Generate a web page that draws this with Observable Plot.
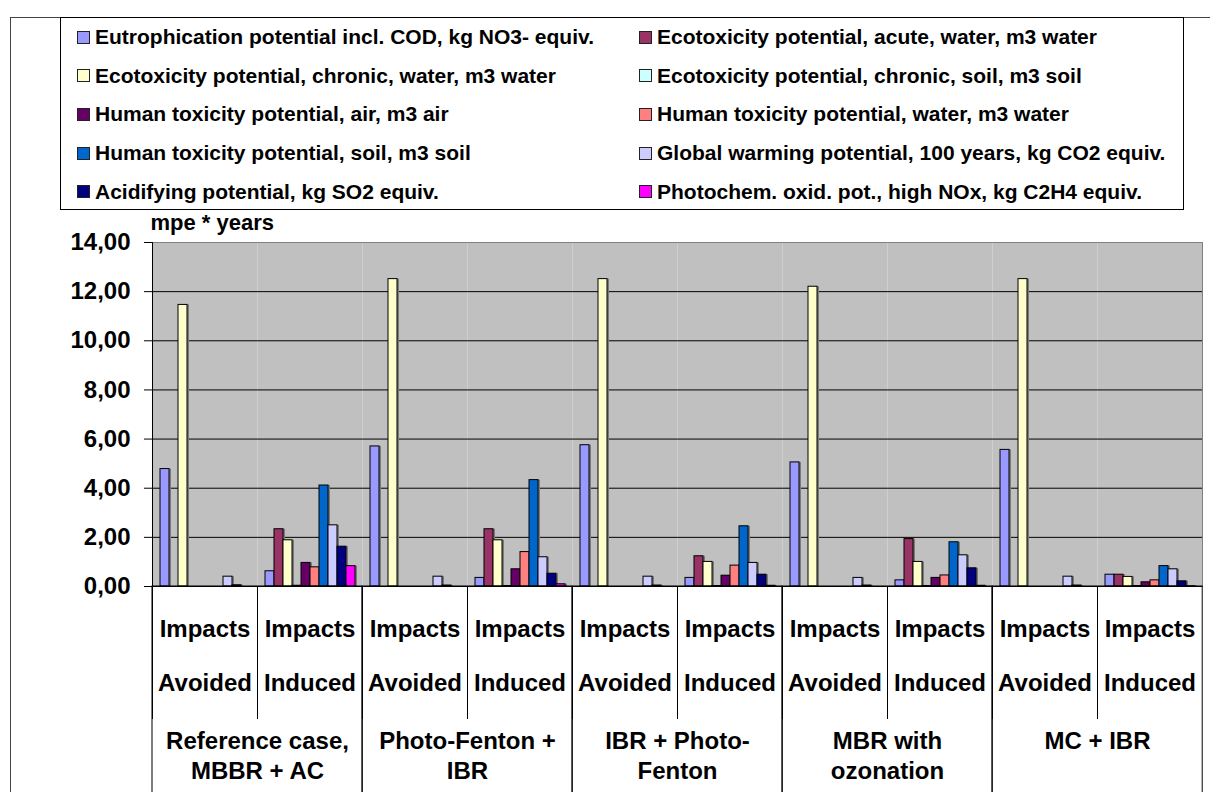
<!DOCTYPE html>
<html>
<head>
<meta charset="utf-8">
<script src="https://cdn.jsdelivr.net/npm/d3@7"></script>
<script src="https://cdn.jsdelivr.net/npm/@observablehq/plot@0.6"></script>
<style>
  body { margin: 0; background: #fff; font-family: "Liberation Sans", Arial, sans-serif; }
  #frame { position: absolute; left: 10px; top: 17px; width: 1210px; height: 790px;
           border-left: 1px solid #444; border-top: 1px solid #444; }
  #legend { position: absolute; left: 60px; top: 17px; width: 1124px; height: 193px;
            border: 1px solid #000; box-sizing: border-box; background: #fff; overflow: hidden; }
  #chart { position: absolute; left: 11px; top: 211px; }
  #legend .lg-swatches-wrap {
    display: grid !important; grid-template-columns: 562px 562px; grid-auto-rows: 38.6px;
    padding-left: 17px; margin: 0 !important; min-height: 0 !important;
    font: bold 21px "Liberation Sans", Arial, sans-serif !important; color: #000;
  }
  #legend .lg-swatch { margin: 0 !important; display: flex !important; align-items: center; white-space: nowrap; }
  #legend .lg-swatch svg { margin-right: 6px !important; outline: 1px solid #222; }
</style>
</head>
<body>
<div id="frame"></div>
<div id="legend"></div>
<div id="chart"></div>
<script>
// Impact categories (series) and their fill colours
const series = [
  "Eutrophication potential incl. COD, kg NO3- equiv.",
  "Ecotoxicity potential, acute, water, m3 water",
  "Ecotoxicity potential, chronic, water, m3 water",
  "Ecotoxicity potential, chronic, soil, m3 soil",
  "Human toxicity potential, air, m3 air",
  "Human toxicity potential, water, m3 water",
  "Human toxicity potential, soil, m3 soil",
  "Global warming potential, 100 years, kg CO2 equiv.",
  "Acidifying potential, kg SO2 equiv.",
  "Photochem. oxid. pot., high NOx, kg C2H4 equiv."
];
const colors = ["#9999FF", "#993366", "#FFFFCC", "#CCFFFF", "#660066",
                "#FF8080", "#0066CC", "#CCCCFF", "#000080", "#FF00FF"];

// Treatment scenarios and the two impact kinds shown for each
const scenarios = ["Reference case,\nMBBR + AC", "Photo-Fenton +\nIBR", "IBR + Photo-\nFenton",
                   "MBR with\nozonation", "MC + IBR"];
const impacts = ["Avoided", "Induced"];

// Normalised impacts, mpe * years (one value per series)
const referenceAvoided   = [4.78, 0, 11.46, 0, 0, 0, 0, 0.40, 0.05, 0];
const referenceInduced   = [0.62, 2.33, 1.88, 0.03, 0.96, 0.78, 4.11, 2.49, 1.62, 0.83];
const photoFentonAvoided = [5.70, 0, 12.51, 0, 0, 0, 0, 0.40, 0.04, 0];
const photoFentonInduced = [0.35, 2.33, 1.88, 0.02, 0.70, 1.40, 4.33, 1.19, 0.52, 0.09];
const ibrAvoided         = [5.75, 0, 12.51, 0, 0, 0, 0, 0.40, 0.04, 0];
const ibrInduced         = [0.35, 1.23, 1.00, 0.02, 0.44, 0.85, 2.45, 0.96, 0.48, 0.03];
const mbrAvoided         = [5.05, 0, 12.20, 0, 0, 0, 0, 0.35, 0.04, 0];
const mbrInduced         = [0.25, 1.93, 1.00, 0.02, 0.35, 0.45, 1.80, 1.27, 0.74, 0.03];
const mcAvoided          = [5.56, 0, 12.51, 0, 0, 0, 0, 0.40, 0.04, 0];
const mcInduced          = [0.48, 0.48, 0.39, 0.02, 0.17, 0.25, 0.83, 0.70, 0.21, 0.01];

const yTicks = [0, 2, 4, 6, 8, 10, 12, 14];

const valuesByScenario = [
  [referenceAvoided, referenceInduced],
  [photoFentonAvoided, photoFentonInduced],
  [ibrAvoided, ibrInduced],
  [mbrAvoided, mbrInduced],
  [mcAvoided, mcInduced]
];

// One facet per scenario × impact kind
const subKey = (s, k) => `${scenarios[s].replace("\n", " ")} | ${impacts[k]}`;
const subRows = [];
const groupRows = [];
const rows = [];
scenarios.forEach((label, s) => {
  groupRows.push({key: subKey(s, 0), label});
  impacts.forEach((impact, k) => {
    const key = subKey(s, k);
    subRows.push({key, impact});
    valuesByScenario[s][k].forEach((value, j) => rows.push({sub: key, series: series[j], value}));
  });
});
const subKeys = subRows.map(d => d.key);

// Layout
const W = 1199, H = 581, ML = 140, MR = 7, MT = 31, MB = 206;
const FACET_W = (W - ML - MR) / subKeys.length;
const PLOT_H = H - MT - MB;
const font = '"Liberation Sans", Arial, sans-serif';
const fmt = d => d3.format(".2f")(d).replace(".", ",");

const chart = Plot.plot({
  width: W, height: H,
  marginLeft: ML, marginRight: MR, marginTop: MT, marginBottom: MB,
  style: {fontFamily: font, fontWeight: "bold", color: "#000", background: "transparent"},
  fx: {domain: subKeys, padding: 0, axis: null},
  x: {domain: series, paddingInner: 0, paddingOuter: 0.65, axis: null},
  y: {domain: [0, 14], axis: null},
  color: {domain: series, range: colors},
  marks: [
    // grey plot area
    Plot.frame({fill: "#c0c0c0", stroke: "none"}),
    Plot.ruleY(yTicks.filter(t => t > 0 && t < 14), {stroke: "#000", strokeWidth: 1}),
    Plot.ruleY([14], {stroke: "#808080"}),
    // bar shadows, then bars
    Plot.barY(rows, {fx: "sub", x: "series", y: "value", fill: "#7a7a7a", dx: 2}),
    Plot.barY(rows, {fx: "sub", x: "series", y: "value", fill: "series", stroke: "#000", strokeWidth: 1}),
    Plot.ruleY([0], {stroke: "#000"}),
    // plot area edges
    Plot.frame({anchor: "left", stroke: "#000", fx: () => subKeys[0]}),
    Plot.frame({anchor: "right", stroke: "#808080", fx: () => subKeys[subKeys.length - 1]}),
    // y axis
    Plot.axisY({ticks: yTicks, tickSize: 8, tickPadding: 14, tickFormat: fmt,
                fontSize: 24, fontWeight: "bold", label: null}),
    Plot.text(["mpe * years"], {fx: () => subKeys[0], text: d => d, frameAnchor: "top-left",
                textAnchor: "start", lineAnchor: "middle", dx: -2, dy: -20, fontSize: 22, fontWeight: "bold"}),
    // category table below the axis
    Plot.frame({anchor: "left", stroke: "#000", insetTop: PLOT_H, insetBottom: -132}),
    Plot.rect(groupRows, {fx: "key", insetTop: PLOT_H, insetBottom: -400, insetRight: -FACET_W,
                          stroke: "#000", fill: "none"}),
    Plot.text(subRows, {fx: "key", text: d => "Impacts\n" + d.impact, frameAnchor: "bottom",
                        lineAnchor: "top", dy: 11, lineHeight: 2.29, fontSize: 24, fontWeight: "bold"}),
    Plot.text(groupRows, {fx: "key", text: "label", frameAnchor: "bottom-right", textAnchor: "middle",
                          lineAnchor: "top", dy: 141, lineHeight: 1.25, fontSize: 24, fontWeight: "bold"})
  ]
});
document.getElementById("chart").append(chart);

const legend = Plot.legend({color: {domain: series, range: colors}, className: "lg", swatchSize: 11});
document.getElementById("legend").append(legend);
</script>
</body>
</html>
